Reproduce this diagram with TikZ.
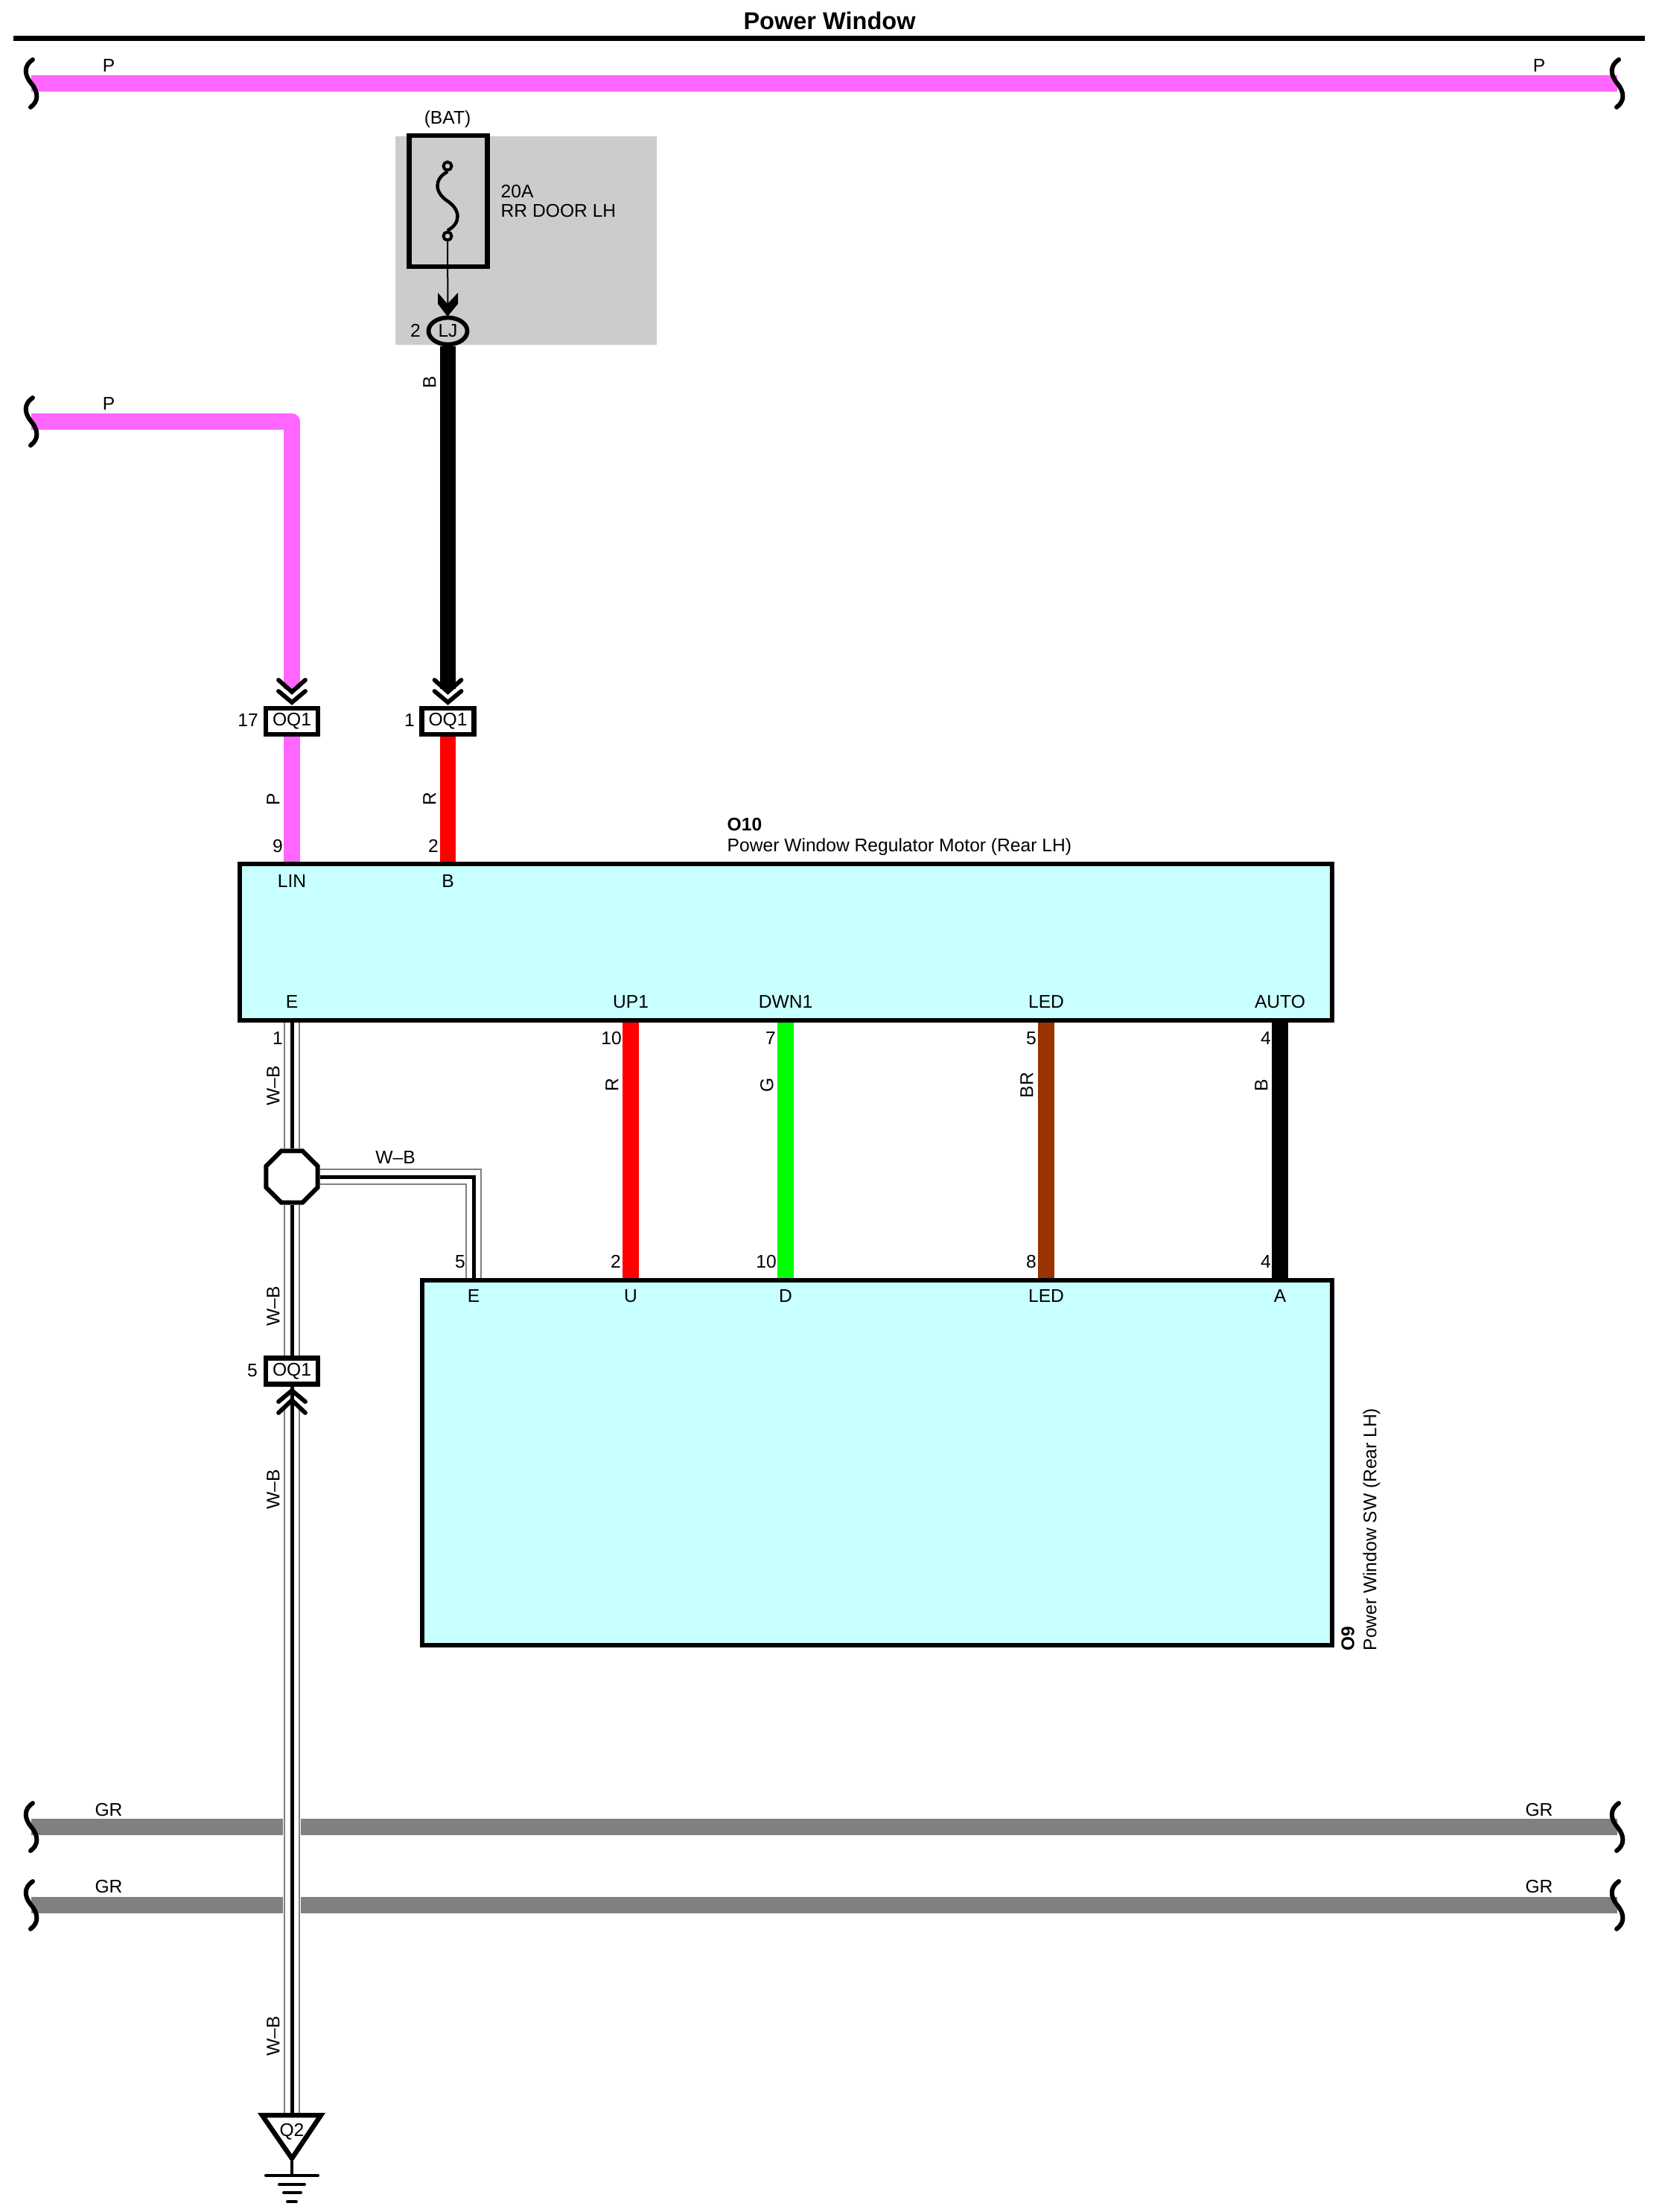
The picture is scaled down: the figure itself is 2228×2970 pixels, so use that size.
\documentclass[tikz,border=0pt]{standalone}
\usepackage{fontspec}
\setmainfont{Liberation Sans}
\usetikzlibrary{shapes.geometric}
\definecolor{wirepink}{HTML}{FF66FF}
\definecolor{wirered}{HTML}{FF0000}
\definecolor{wiregreen}{HTML}{00FF00}
\definecolor{wirebrown}{HTML}{993300}
\definecolor{wiregray}{HTML}{808080}
\definecolor{panelgray}{HTML}{CCCCCC}
\definecolor{boxcyan}{HTML}{C8FFFF}
\tikzset{
	txt/.style={inner sep=0pt, font=\fontsize{7}{8}\selectfont},
	boldtxt/.style={inner sep=0pt, font=\fontsize{7}{8}\selectfont\bfseries},
	wire/.style={line width=.215cm},
	wb/.style={black, line width=.05cm,
		preaction={draw=white, line width=.245cm},
		preaction={draw=wiregray, line width=.215cm},
		preaction={draw=white, line width=.185cm}},
	conn/.style={draw=black, fill=white, line width=.065cm, inner sep=0pt,
		minimum width=.7cm, minimum height=.35cm, font=\fontsize{7}{8}\selectfont},
	ecu/.style={draw=black, fill=boxcyan, line width=.06cm, inner sep=0pt},
	chev/.style={draw=black, line width=.058cm, line cap=round},
	pics/brk/.style={code={
		\draw[line width=.06cm, line cap=round] (2,-32) .. controls (-10,-24) and (-10,-12) .. (0,0) .. controls (10,12) and (10,24) .. (-1,32);
	}}
}
\begin{document}
\begin{tikzpicture}[x=.01cm, y=-.01cm]
	\useasboundingbox (0,0) rectangle (2228,2970);

	% title and rule
	\node[inner sep=0pt, font=\fontsize{9.25}{10}\selectfont\bfseries] (title) at (1114,28) {Power Window};
	\coordinate (rulel) at (18,51.5);
	\coordinate (ruler) at (2209,51.5);
	\draw[line width=.07cm] (rulel) -- (ruler);

	% buses
	\coordinate (pa) at (42,112);
	\coordinate (pb) at (2172,112);
	\coordinate (ga) at (42,2453);
	\coordinate (gb) at (2172,2453);
	\coordinate (gc) at (42,2558);
	\coordinate (gd) at (2172,2558);
	\draw[wire, wirepink] (pa) -- (pb);
	\draw[wire, wiregray] (ga) -- (gb);
	\draw[wire, wiregray] (gc) -- (gd);
	\pic at (pa) {brk};
	\pic at (pb) {brk};
	\pic at (ga) {brk};
	\pic at (gb) {brk};
	\pic at (gc) {brk};
	\pic at (gd) {brk};
	\node[txt] (pal) at (146,88) {P};
	\node[txt] (pbl) at (2067,88) {P};
	\node[txt] (gal) at (146,2430) {GR};
	\node[txt] (gbl) at (2067,2430) {GR};
	\node[txt] (gcl) at (146,2533) {GR};
	\node[txt] (gdl) at (2067,2533) {GR};

	% fuse block
	\node[fill=panelgray, inner sep=0pt, minimum width=3.51cm, minimum height=2.8cm] (panel) at (706.5,323) {};
	\node[draw=black, line width=.065cm, inner sep=0pt, minimum width=1.05cm, minimum height=1.755cm] (fuse) at (602,270) {};
	\node[draw=black, circle, line width=.04cm, inner sep=0pt, minimum size=.11cm] (fa) at (601,223) {};
	\node[draw=black, circle, line width=.04cm, inner sep=0pt, minimum size=.11cm] (fb) at (601,317) {};
	\draw[line width=.045cm] (fa.south) .. controls (583,240) and (583,258) .. (601,270) .. controls (619,282) and (619,300) .. (fb.north);
	\node[txt] (bat) at (601,160) {(BAT)};
	\node[txt, anchor=west] (amp) at (672,257) {20A};
	\node[txt, anchor=west] (fname) at (672,283) {RR DOOR LH};
	\node[draw=black, fill=panelgray, ellipse, line width=.058cm, inner sep=0pt, minimum width=.52cm, minimum height=.36cm, font=\fontsize{7}{8}\selectfont] (lj) at (601.5,444.5) {LJ};
	\node[txt] (ljn) at (558,444) {2};
	\draw[line width=.02cm] (fb.south) -- (lj.north);
	\fill (588,393) -- (601,408) -- (615,393) -- (615,408) -- (601,425) -- (588,408) -- cycle;

	% modules
	\node[ecu, minimum width=14.67cm, minimum height=2.1cm] (motor) at (1055.5,1265) {};
	\node[ecu, minimum width=12.22cm, minimum height=4.895cm] (switch) at (1178,1964) {};
	\node[boldtxt, anchor=west] (motorid) at (976,1107) {O10};
	\node[txt, anchor=west] (motorname) at (976,1137) {Power Window Regulator Motor (Rear LH)};
	\node[boldtxt, anchor=west, rotate=90] (switchid) at (1810,2217) {O9};
	\node[txt, anchor=west, rotate=90] (switchname) at (1842,2217) {Power Window SW (Rear LH)};

	% pin names
	\node[txt] (lin) at (392,1183) {LIN};
	\node[txt] (mb) at (601.5,1183) {B};
	\node[txt] (me) at (392,1345) {E};
	\node[txt] (up) at (847,1345) {UP1};
	\node[txt] (dwn) at (1055,1345) {DWN1};
	\node[txt] (mled) at (1405,1345) {LED};
	\node[txt] (auto) at (1719,1345) {AUTO};
	\node[txt] (se) at (636,1740) {E};
	\node[txt] (su) at (847,1740) {U};
	\node[txt] (sd) at (1055,1740) {D};
	\node[txt] (sled) at (1405,1740) {LED};
	\node[txt] (sa) at (1719,1740) {A};

	% connectors and splice
	\node[conn] (oqa) at (392,968.5) {OQ1};
	\node[conn] (oqb) at (601.5,968.5) {OQ1};
	\node[conn] (oqc) at (392,1841) {OQ1};
	\node[draw=black, fill=white, regular polygon, regular polygon sides=8, line width=.06cm, inner sep=0pt, minimum size=.747cm] (jn) at (392,1580) {};
	\node[txt] (oqan) at (333,967) {17};
	\node[txt] (oqbn) at (550,967) {1};
	\node[txt] (oqcn) at (339,1840) {5};

	% wires to connectors
	\coordinate (pc) at (42,566);
	\coordinate (chp) at (392,925);
	\coordinate (chb) at (601.5,925);
	\coordinate (chc) at (392,1890);
	\draw[wire, wirepink, line join=round] (pc) -- (chp |- pc) -- (chp);
	\pic at (pc) {brk};
	\node[txt] (pcl) at (146,542) {P};
	\draw[wire, black] (lj.south) -- (chb);
	\node[txt, rotate=90] (ljw) at (577,513) {B};
	\draw[chev] (374,913) -- (392,929) -- (410,913) (374,928) -- (392,943) -- (410,928);
	\draw[chev] (583.5,913) -- (601.5,929) -- (619.5,913) (583.5,928) -- (601.5,943) -- (619.5,928);

	% wires to the motor
	\draw[wire, wirepink] (oqa.south) -- (lin |- motor.north);
	\draw[wire, wirered] (oqb.south) -- (mb |- motor.north);
	\node[txt, rotate=90] (w9) at (367,1073) {P};
	\node[txt, rotate=90] (w2) at (577,1073) {R};
	\node[txt] (n9) at (373,1136) {9};
	\node[txt] (n2) at (582,1136) {2};

	% wires between the modules
	\draw[wire, wirered] (up |- motor.south) -- (su |- switch.north);
	\draw[wire, wiregreen] (dwn |- motor.south) -- (sd |- switch.north);
	\draw[wire, wirebrown] (mled |- motor.south) -- (sled |- switch.north);
	\draw[wire, black] (auto |- motor.south) -- (sa |- switch.north);
	\node[txt] (n10) at (821,1394) {10};
	\node[txt, rotate=90] (wr) at (822,1457) {R};
	\node[txt] (n2b) at (827,1694) {2};
	\node[txt] (n7) at (1035,1394) {7};
	\node[txt, rotate=90] (wg) at (1030,1457) {G};
	\node[txt] (n10b) at (1029,1694) {10};
	\node[txt] (n5) at (1385,1394) {5};
	\node[txt, rotate=90] (wbr) at (1379,1457) {BR};
	\node[txt] (n8) at (1385,1694) {8};
	\node[txt] (n4) at (1700,1394) {4};
	\node[txt, rotate=90] (wbl) at (1694,1457) {B};
	\node[txt] (n4b) at (1700,1694) {4};

	% W-B wires
	\coordinate (gndtop) at (392,2837);
	\draw[wb] (me |- motor.south) -- (jn.north);
	\draw[wb] (jn.south) -- (oqc.north);
	\draw[wb] (jn.east) -- (se |- jn.east) -- (se |- switch.north);
	\draw[wb] (gndtop) -- (chc);
	\draw[black, line width=.05cm] (chc) -- (oqc.south);
	\draw[chev] (374,1882) -- (392,1867) -- (410,1882) (374,1897) -- (392,1880) -- (410,1897);
	\node[txt] (n1) at (373,1394) {1};
	\node[txt, rotate=90] (w1) at (367,1458) {W--B};
	\node[txt] (wbh) at (531,1554) {W--B};
	\node[txt] (n5b) at (618,1694) {5};
	\node[txt, rotate=90] (w3) at (367,1754) {W--B};
	\node[txt, rotate=90] (w4) at (367,2000) {W--B};
	\node[txt, rotate=90] (w5) at (367,2734) {W--B};

	% ground
	\node[txt] (q2) at (392,2862) {Q2};
	\draw[line width=.065cm] (352,2840) -- (431,2840) -- (392,2898) -- cycle;
	\coordinate (gnd) at (392,2921);
	\coordinate (gndtip) at (392,2902);
	\draw[line width=.04cm] (gndtip) -- (gnd);
	\draw[line width=.04cm, line cap=round] (357,2921) -- (427,2921);
	\draw[line width=.04cm, line cap=round] (375,2933) -- (409,2933);
	\draw[line width=.04cm, line cap=round] (381,2944) -- (404,2944);
	\draw[line width=.04cm, line cap=round] (386,2956) -- (398,2956);
\end{tikzpicture}
\end{document}
